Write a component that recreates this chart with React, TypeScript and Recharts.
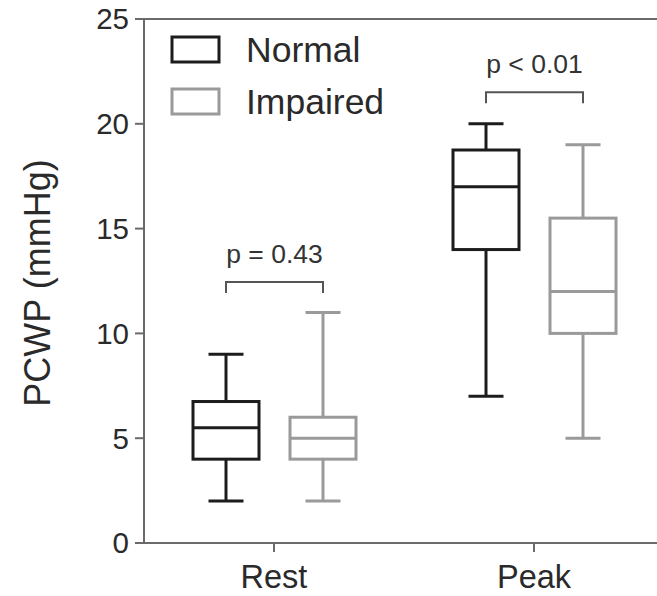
import { ComposedChart, Bar, XAxis, YAxis, Legend, ReferenceLine } from 'recharts';

const categories = ['Rest', 'Peak'];

const normalMin = [2, 7];
const normalQ1 = [4, 14];
const normalMedian = [5.5, 17];
const normalQ3 = [6.75, 18.75];
const normalMax = [9, 20];

const impairedMin = [2, 5];
const impairedQ1 = [4, 10];
const impairedMedian = [5, 12];
const impairedQ3 = [6, 15.5];
const impairedMax = [11, 19];

const pLabels = ['p = 0.43', 'p < 0.01'];
const bracketLevels = [12.45, 21.5];

const yTicks = [0, 5, 10, 15, 20, 25];
const seriesNames = ['Normal', 'Impaired'];

const NORMAL_COLOR = '#1c1c1c';
const IMPAIRED_COLOR = '#9a9a9a';
const AXIS_COLOR = '#6a6a6a';
const FONT = "'Liberation Sans', Arial, Helvetica, sans-serif";
const BAR_SIZE = 66;
const BAR_GAP = 31;
const CAP_WIDTH = 35;

const data = categories.map((name, i) => ({
  name,
  normal: { min: normalMin[i], q1: normalQ1[i], median: normalMedian[i], q3: normalQ3[i], max: normalMax[i] },
  impaired: {
    min: impairedMin[i],
    q1: impairedQ1[i],
    median: impairedMedian[i],
    q3: impairedQ3[i],
    max: impairedMax[i],
  },
  normalRange: [normalMin[i], normalMax[i]],
  impairedRange: [impairedMin[i], impairedMax[i]],
  p: pLabels[i],
  bracket: bracketLevels[i],
}));

function makeBoxShape(key: 'normal' | 'impaired', color: string, withBracket: boolean) {
  return (props: any) => {
    const { x, y, width, height, payload } = props;
    const s = payload[key];
    const top = Math.min(y, y + height);
    const bottom = Math.max(y, y + height);
    // map a value into pixels using the bar's own min..max extent
    const toY = (v: number) => top + ((bottom - top) * (s.max - v)) / (s.max - s.min);
    const cx = x + width / 2;
    const sw = 3;

    let bracket = null;
    if (withBracket) {
      const left = cx;
      const right = cx + width + BAR_GAP;
      const by = toY(payload.bracket);
      bracket = (
        <g>
          <path
            d={`M${left},${by + 11} L${left},${by} L${right},${by} L${right},${by + 11}`}
            fill="none"
            stroke="#555"
            strokeWidth={2}
          />
          <text
            x={(left + right) / 2}
            y={by - 19}
            textAnchor="middle"
            fontSize={26.5}
            fontFamily={FONT}
            fill="#333"
          >
            {payload.p}
          </text>
        </g>
      );
    }

    return (
      <g>
        <line x1={cx} x2={cx} y1={toY(s.max)} y2={toY(s.q3)} stroke={color} strokeWidth={sw} />
        <line x1={cx} x2={cx} y1={toY(s.q1)} y2={toY(s.min)} stroke={color} strokeWidth={sw} />
        <line x1={cx - CAP_WIDTH / 2} x2={cx + CAP_WIDTH / 2} y1={toY(s.max)} y2={toY(s.max)} stroke={color} strokeWidth={sw} />
        <line x1={cx - CAP_WIDTH / 2} x2={cx + CAP_WIDTH / 2} y1={toY(s.min)} y2={toY(s.min)} stroke={color} strokeWidth={sw} />
        <rect
          x={x}
          y={toY(s.q3)}
          width={width}
          height={toY(s.q1) - toY(s.q3)}
          fill="#fff"
          stroke={color}
          strokeWidth={sw}
        />
        <line x1={x} x2={x + width} y1={toY(s.median)} y2={toY(s.median)} stroke={color} strokeWidth={sw} />
        {bracket}
      </g>
    );
  };
}

const renderYLabel = (props: any) => {
  const vb = props.viewBox || { x: 0, y: 19, width: 144, height: 524 };
  const cx = vb.x + 37;
  const cy = vb.y + vb.height / 2 + 2;
  return (
    <text
      x={cx}
      y={cy}
      transform={`rotate(-90 ${cx} ${cy})`}
      textAnchor="middle"
      dominantBaseline="central"
      fontSize={36}
      fontFamily={FONT}
      fill="#2a2a2a"
    >
      PCWP (mmHg)
    </text>
  );
};

const renderLegend = () => (
  <svg width={400} height={130}>
    {seriesNames.map((name, i) => {
      const color = i === 0 ? NORMAL_COLOR : IMPAIRED_COLOR;
      const yTop = 37 + i * 52;
      return (
        <g key={name}>
          <rect x={172} y={yTop} width={47} height={25} fill="#fff" stroke={color} strokeWidth={3} />
          <text
            x={246}
            y={yTop + 13}
            dominantBaseline="central"
            fontSize={35.5}
            fontFamily={FONT}
            fill="#2a2a2a"
          >
            {name}
          </text>
        </g>
      );
    })}
  </svg>
);

export default function App() {
  return (
    <div
      style={{
        position: 'absolute',
        left: 0,
        top: 0,
        width: 657,
        height: 596,
        overflow: 'hidden',
        background: '#fff',
      }}
    >
      <ComposedChart
        width={670}
        height={596}
        data={data}
        margin={{ top: 19, right: 6, bottom: 0, left: 0 }}
        barSize={BAR_SIZE}
        barGap={BAR_GAP}
      >
        <XAxis
          dataKey="name"
          height={53}
          axisLine={{ stroke: AXIS_COLOR, strokeWidth: 2 }}
          tickLine={{ stroke: AXIS_COLOR, strokeWidth: 2 }}
          tickSize={9}
          tickMargin={13}
          tick={{ fill: '#2a2a2a', fontSize: 32.5, fontFamily: FONT }}
        />
        <YAxis
          width={144}
          domain={[0, 25]}
          ticks={yTicks}
          interval={0}
          axisLine={{ stroke: AXIS_COLOR, strokeWidth: 2 }}
          tickLine={{ stroke: AXIS_COLOR, strokeWidth: 2 }}
          tickSize={9}
          tickMargin={6}
          tick={{ fill: '#2a2a2a', fontSize: 29.5, fontFamily: FONT }}
          label={renderYLabel}
        />
        <ReferenceLine y={25} stroke={AXIS_COLOR} strokeWidth={2} />
        <Legend
          layout="horizontal"
          verticalAlign="middle"
          align="center"
          content={renderLegend}
          wrapperStyle={{ left: 0, top: 0, width: 400, height: 130 }}
        />
        <Bar
          name="Normal"
          dataKey="normalRange"
          fill={NORMAL_COLOR}
          shape={makeBoxShape('normal', NORMAL_COLOR, true)}
          isAnimationActive={false}
        />
        <Bar
          name="Impaired"
          dataKey="impairedRange"
          fill={IMPAIRED_COLOR}
          shape={makeBoxShape('impaired', IMPAIRED_COLOR, false)}
          isAnimationActive={false}
        />
      </ComposedChart>
    </div>
  );
}
